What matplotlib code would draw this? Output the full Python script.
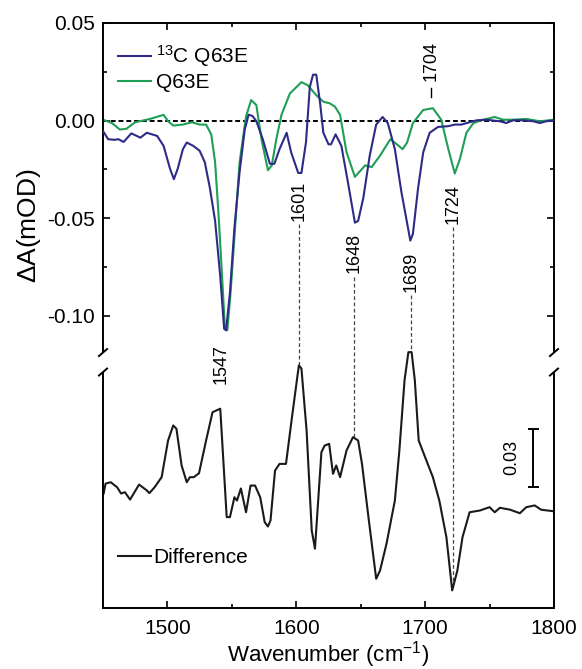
import numpy as np
import matplotlib
matplotlib.use("Agg")
import matplotlib.pyplot as plt

plt.rcParams['font.family'] = ['Liberation Sans', 'DejaVu Sans']
plt.rcParams['mathtext.fontset'] = 'custom'
plt.rcParams['mathtext.rm'] = 'Liberation Sans'
plt.rcParams['mathtext.it'] = 'Liberation Sans'

# 13C Q63E spectrum (blue)
blue_wn = [1450, 1454, 1459, 1462, 1466, 1472, 1479, 1484, 1488, 1492,
           1497, 1502, 1505, 1508, 1512, 1515, 1520, 1525, 1529, 1533,
           1537, 1541, 1544, 1545.5, 1548.5, 1552, 1556, 1560, 1563, 1566,
           1569, 1574, 1579.5, 1583, 1587, 1592.5, 1596, 1601.5, 1604, 1607.5,
           1610.5, 1613, 1615.5, 1618.5, 1621, 1625, 1627, 1630.5, 1635, 1640,
           1645.5, 1648, 1652, 1657, 1662, 1667, 1671, 1676.5, 1681.5, 1688.5,
           1690.5, 1694.5, 1698.5, 1703.5, 1710, 1718, 1723, 1728, 1734.5, 1740,
           1747.5, 1758, 1763, 1768, 1776, 1784, 1789, 1794, 1800]
blue_dA = [-0.0054, -0.0096, -0.0099, -0.0096, -0.0110, -0.0066, -0.0088, -0.0063, -0.0071, -0.0079,
           -0.0130, -0.0247, -0.0301, -0.0247, -0.0147, -0.0113, -0.0130, -0.0155, -0.0214, -0.0348,
           -0.0515, -0.0800, -0.1068, -0.1076, -0.0883, -0.0549, -0.0264, -0.0046, 0.0030, 0.0023,
           -0.0003, -0.0096, -0.0222, -0.0222, -0.0147, -0.0063, -0.0163, -0.0269, -0.0269, -0.0113,
           0.0172, 0.0235, 0.0235, 0.0088, -0.0063, -0.0122, -0.0122, -0.0071, -0.0130, -0.0314,
           -0.0524, -0.0515, -0.0398, -0.0180, -0.0021, 0.0018, -0.0013, -0.0147, -0.0364, -0.0616,
           -0.0582, -0.0348, -0.0163, -0.0063, -0.0033, -0.0029, -0.0021, -0.0021, -0.0009, 0.0001,
           0.0004, -0.0004, -0.0013, 0.0001, 0.0001, -0.0004, -0.0013, -0.0004, 0.0001]

# Q63E spectrum (green)
green_wn = [1450, 1457, 1463, 1468, 1475, 1486.5, 1497, 1500.5, 1504.5, 1512,
            1519, 1525, 1530, 1534, 1537, 1539.5, 1542, 1544.5, 1546.5, 1549,
            1552.5, 1556, 1561, 1565, 1569, 1573, 1578, 1581, 1584.5, 1588.5,
            1595, 1604, 1609, 1615.5, 1621, 1626, 1630, 1634, 1639, 1645.5,
            1653.5, 1658.5, 1665, 1673, 1678, 1682.5, 1686, 1690.5, 1698.5, 1706,
            1712.5, 1718, 1723, 1727, 1732, 1737.5, 1745, 1754, 1760.5, 1768,
            1778.5, 1789, 1800]
green_dA = [0.0004, -0.0013, -0.0046, -0.0043, -0.0009, 0.0008, 0.0029, -0.0004, -0.0026, -0.0021,
            -0.0009, -0.0021, -0.0021, -0.0071, -0.0214, -0.0465, -0.0750, -0.1051, -0.1076, -0.0883,
            -0.0549, -0.0214, 0.0021, 0.0105, 0.0079, -0.0096, -0.0255, -0.0230, -0.0096, 0.0029,
            0.0138, 0.0197, 0.0180, 0.0130, 0.0096, 0.0088, 0.0071, 0.0029, -0.0163, -0.0289,
            -0.0230, -0.0239, -0.0180, -0.0096, -0.0122, -0.0147, -0.0113, -0.0013, 0.0054, 0.0063,
            0.0004, -0.0147, -0.0272, -0.0197, -0.0063, -0.0013, 0.0004, 0.0018, 0.0004, 0.0004,
            0.0008, -0.0004, 0.0004]

# difference spectrum (black), drawn with an offset below the break
diff_wn = [1450.5, 1452, 1456, 1461, 1464, 1467, 1471, 1478, 1484, 1486,
           1490, 1495.5, 1500.5, 1504.5, 1507, 1511, 1515, 1517.5, 1520.5, 1524.5,
           1530, 1535, 1541, 1546, 1548.5, 1552, 1554, 1557, 1561, 1564.5,
           1568, 1572, 1575.5, 1578, 1580, 1583.5, 1587, 1592, 1597, 1602,
           1604, 1608, 1612, 1614.5, 1619.5, 1622, 1625.5, 1628.5, 1631, 1634,
           1639, 1644, 1648, 1651, 1656, 1662, 1665, 1670, 1676.5, 1680,
           1684, 1687, 1689.5, 1692, 1695, 1701, 1706, 1711, 1716.5, 1721,
           1725, 1729, 1734.5, 1742.5, 1750, 1754, 1758, 1766, 1773.5, 1778.5,
           1785, 1790, 1800]
diff_dA = [0.0087, 0.0138, 0.0145, 0.0119, 0.0087, 0.0094, 0.0056, 0.0133, 0.0103, 0.0089,
           0.0119, 0.0171, 0.0359, 0.0436, 0.0419, 0.0231, 0.0145, 0.0171, 0.0171, 0.0191,
           0.0359, 0.0504, 0.0522, -0.0034, -0.0034, 0.0068, 0.0051, 0.0113, -0.0009, 0.0128,
           0.0128, 0.0068, -0.0060, -0.0082, -0.0051, 0.0205, 0.0239, 0.0239, 0.0496, 0.0744,
           0.0728, 0.0410, -0.0103, -0.0196, 0.0299, 0.0333, 0.0342, 0.0188, 0.0231, 0.0171,
           0.0308, 0.0376, 0.0359, 0.0239, -0.0034, -0.0350, -0.0308, -0.0171, 0.0051, 0.0308,
           0.0667, 0.0812, 0.0812, 0.0667, 0.0359, 0.0256, 0.0171, 0.0051, -0.0137, -0.0410,
           -0.0308, -0.0137, -0.0009, 0.0000, 0.0017, -0.0009, 0.0014, 0.0004, -0.0014, 0.0017,
           0.0026, 0.0004, -0.0004]
diff_offset = -0.20

# peak labels: text, x position, label centre y
peak_labels = ['1547', '1601', '1648', '1689', '1724']
peak_x = [1542, 1602, 1645, 1689, 1722]
peak_label_y = [-0.125, -0.0413, -0.068, -0.0777, -0.0426]
peak_has_line = [False, True, True, True, True]

BLUE = '#2d2b86'
GREEN = '#1f9e55'

fig = plt.figure(figsize=(5.82, 6.69), dpi=100)
ax = fig.add_axes([103 / 582, 1 - 608 / 669, 451 / 582, 585 / 669])

ax.axhline(0, color='black', ls=(0, (2.5, 1.5)), lw=1.4, zorder=1)
l_blue, = ax.plot(blue_wn, blue_dA, color=BLUE, lw=1.5, zorder=3)
l_green, = ax.plot(green_wn, green_dA, color=GREEN, lw=1.5, zorder=2)
diff_y = np.array(diff_dA) + diff_offset
l_diff, = ax.plot(diff_wn, diff_y, color='#1a1a1a', lw=1.5)

ax.set_xlim(1450, 1800)
ax.set_ylim(-0.25, 0.05)

# peak annotations and dashed guide lines down to the difference spectrum
for txt, x, y, has_line in zip(peak_labels, peak_x, peak_label_y, peak_has_line):
    ax.text(x, y, txt, rotation=90, ha='center', va='center', fontsize=13)
    if has_line:
        y_start = y - 0.012
        y_end = np.interp(x, diff_wn, diff_y)
        ax.plot([x, x], [y_start, y_end], color='#444444', lw=0.9,
                ls=(0, (3, 2)), zorder=1)

# 1704 label with short pointer
ax.text(1704.3, 0.0303, '1704', rotation=90, ha='center', va='center', fontsize=13)
ax.plot([1704.3, 1704.3], [0.0165, 0.0120], color='black', lw=1.0)

# scale bar
sb_x, sb_top, sb_len = 1784, -0.158, 0.03
ax.plot([sb_x, sb_x], [sb_top, sb_top - sb_len], color='black', lw=1.4)
ax.plot([sb_x - 3.5, sb_x + 3.5], [sb_top, sb_top], color='black', lw=1.4)
ax.plot([sb_x - 3.5, sb_x + 3.5], [sb_top - sb_len, sb_top - sb_len], color='black', lw=1.4)
ax.text(1767, sb_top - sb_len / 2, '0.03', rotation=90, ha='center', va='center', fontsize=13)

# ticks
ax.set_xticks([1500, 1600, 1700, 1800])
ax.set_xticks([1550, 1650, 1750], minor=True)
ax.set_yticks([-0.10, -0.05, 0.00, 0.05])
ax.set_yticklabels(['-0.10', '-0.05', '0.00', '0.05'])
ax.set_yticks([-0.075, -0.025, 0.025], minor=True)
ax.tick_params(which='both', direction='in', top=True, right=True, width=1.2,
               labelsize=15)
ax.tick_params(axis='x', which='both', pad=8)
ax.tick_params(axis='y', which='both', pad=6)
ax.tick_params(which='major', length=5)
ax.tick_params(which='minor', length=3)

ax.set_xlabel('Wavenumber (cm$^{-1}$)', fontsize=16, va='baseline')
ax.xaxis.set_label_coords(0.5, -0.0906, transform=ax.transAxes)
ax.set_ylabel(r'$\Delta$A(mOD)', fontsize=19)
ax.yaxis.set_label_coords(-0.132, 0.653)

# spines with a break on left and right
for s in ('left', 'right'):
    ax.spines[s].set_visible(False)
ax.spines['top'].set_linewidth(1.4)
ax.spines['bottom'].set_linewidth(1.4)
brk_lo, brk_hi = -0.129, -0.119
tr = ax.get_yaxis_transform()
for xs in (0, 1):
    ax.plot([xs, xs], [-0.25, brk_lo], transform=tr, color='black', lw=1.4,
            clip_on=False, solid_capstyle='butt')
    ax.plot([xs, xs], [brk_hi, 0.05], transform=tr, color='black', lw=1.4,
            clip_on=False, solid_capstyle='butt')
    for yb in (brk_lo, brk_hi):
        ax.plot([xs - 0.009, xs + 0.009], [yb - 0.0018, yb + 0.0018], transform=tr,
                color='black', lw=1.4, clip_on=False)

leg1 = ax.legend([l_blue, l_green], [r'$^{13}$C Q63E', 'Q63E'], loc='upper left',
                 bbox_to_anchor=(0.0, 0.99), frameon=False, fontsize=15,
                 handlelength=1.6, handletextpad=0.25, labelspacing=0.2,
                 borderaxespad=0.5, borderpad=0.2)
ax.add_artist(leg1)
ax.legend([l_diff], ['Difference'], loc='lower left', bbox_to_anchor=(0.0, 0.045),
          frameon=False, fontsize=15, handlelength=1.6, handletextpad=0.1,
          borderaxespad=0.5, borderpad=0.2)

fig.savefig('out.png', dpi=100)
